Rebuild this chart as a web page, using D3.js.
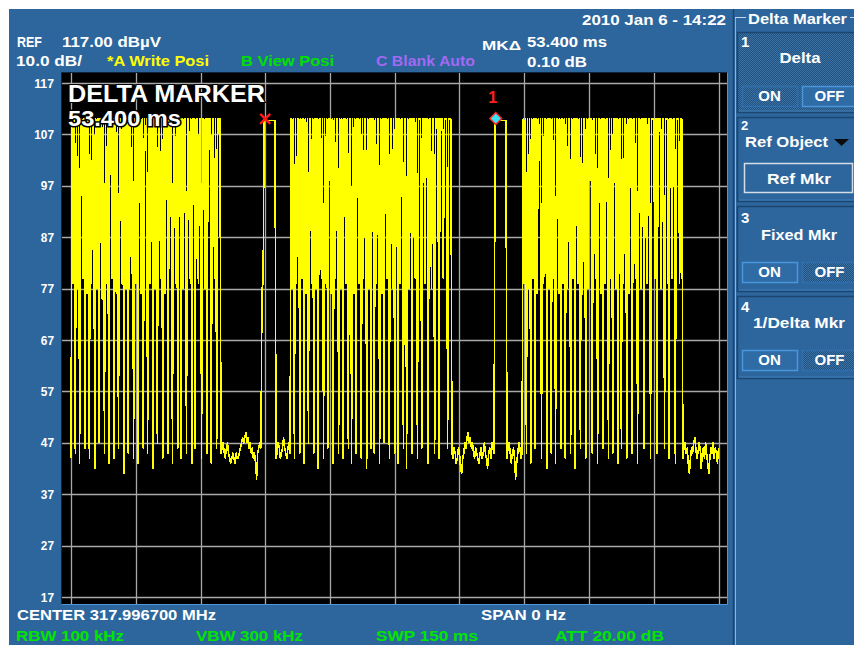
<!DOCTYPE html>
<html>
<head>
<meta charset="utf-8">
<script src="https://cdn.jsdelivr.net/npm/d3@7"></script>
<style>
  html, body { margin: 0; padding: 0; background: #fff; }
  svg { display: block; }
  text { font-family: "Liberation Sans", Arial, sans-serif; font-weight: bold; }
</style>
</head>
<body>
<svg id="chart" width="854" height="645"></svg>
<script>
// zero span sweep: 150 ms, one point every 0.25 ms (601 points)
const SWEEP_MS = 150;
const STEP_MS = 0.25;

// trace levels in dBuV
const leadIn = [44];
const burst1 = [
  110,78,110,45,110,77,110,43,110,110,
  79,110,46,110,76,110,44,110,78,110,
  110,42,110,77,110,47,110,110,75,110,
  45,110,78,110,43,110,110,79,110,44,
  110,76,110,46,110,110,78,110,41,110,
  77,110,45,110,110,80,110,44,110,78,
  110,43,110,110,76,110,46,110,104,110,
  45,110,78,110,110,42,110,77,110,47,
  110,110,79,110,44,110,76,110,110,45,
  110,91,110,43,110,110,78,110,46,110,
  110,44,110,77,110,110,45,110,110,79,
  110,43,110,110,46,110,110,78,110,110,
  44,110,110,77,110,45,110,110,110,43,
  110,110,79,110,46,110,110,110
];
const gap1 = [
  45,46,47,45,44,46,47,45,44,43,
  44,45,44,43,45,44,44,45,46,47,
  48,47,48,49,47,48,46,47,45,46,
  44,45,43,40,45,46,47
];
const pulseA = [46,77,78,110,110,109.7,109.7,109.7,109.7,109.7,109.7,109.7,109.7,109.7];
const gap2 = [44,45,47,46,44,45,46,48,46,45,44,46,47,45];
const burst2 = [
  110,77,110,44,110,78,110,110,45,110,
  79,110,43,110,76,110,47,110,110,78,
  110,45,110,77,110,42,110,110,79,110,
  44,110,78,110,46,110,110,76,110,43,
  110,79,110,110,45,110,77,110,44,110,
  110,78,110,46,110,110,43,110,76,110,
  45,110,110,78,110,44,110,79,110,110,
  42,110,77,110,46,110,110,45,110,78,
  110,110,43,110,76,110,47,110,110,79,
  110,44,110,110,77,110,45,110,110,43,
  110,78,110,110,46,110,110,42,110,77,
  110,110,45,110,110,79,110,44,110,110,
  110,46,110,110,78,110,110,43,110,110,
  77,110,110,45,110,110,110,44,110,110,
  110,79,110,110,110,46,110,110,110
];
const gap3 = [
  45,44,46,45,43,44,46,45,42,41,
  44,45,47,46,48,49,47,48,46,47,
  45,44,46,45,44,43,45,46,44,45,
  47,45,44,42,45,46,44,47,46
];
const pulseB = [45,110.1,109.7,109.7,109.7,109.7,109.7,109.7,109.7,109.7,109.7,109.7];
const gap4 = [44,46,47,45,43,45,46,44,40,43,45,47,46,44,45];
const burst3 = [
  110,78,110,45,110,77,110,43,110,79,
  110,46,110,76,110,102,110,44,110,78,
  110,110,42,110,77,110,45,110,79,110,
  43,110,110,76,110,46,110,78,110,44,
  110,77,110,110,45,110,79,110,42,110,
  110,78,110,46,110,76,110,110,44,110,
  77,110,98,110,45,110,110,79,110,43,
  110,110,76,110,46,110,78,110,110,44,
  110,79,110,45,110,110,77,110,43,110,
  110,46,110,78,110,110,44,110,76,110,
  110,45,110,110,79,110,43,110,110,77,
  110,110,46,110,110,78,110,110,44,110,
  110,110,79,110,45,110,110,110,77,110,
  110,46,110,110,110,44,110,110,79,110,
  110,43,110,110,110,78,110,110
];
const tail = [
  44,46,47,45,46,43,41,44,46,45,
  47,48,46,44,45,47,46,42,45,46,
  44,47,45,43,41,44,46,45,47,44,
  46,45,43,46
];

// reference marker (X) and delta marker (1)
const markerTimes = [45.0, 98.4];
const markerLevels = [110.0, 110.1];

// axis values
const levelTicks = [117, 107, 97, 87, 77, 67, 57, 47, 37, 27, 17];
const timeTicks = [0, 15, 30, 45, 60, 75, 90, 105, 120, 135, 150];

const BG = "#2c669d";
const DARK = "#1c4670";
const LIGHT = "#4a96dc";

const svg = d3.select("#chart");

function label(g, x0, y0, s, o = {}) {
  const t = g.append("text")
    .attr("x", x0).attr("y", y0)
    .attr("font-size", o.size || 15)
    .attr("fill", o.fill || "#fff")
    .text(s);
  if (o.anchor) t.attr("text-anchor", o.anchor);
  if (o.len) t.attr("textLength", o.len).attr("lengthAdjust", "spacingAndGlyphs");
  return t;
}

// dotted texture used by the "selected" panel pieces
const defs = svg.append("defs");
const pat = defs.append("pattern").attr("id", "dots")
  .attr("width", 2).attr("height", 2).attr("patternUnits", "userSpaceOnUse");
pat.append("rect").attr("width", 2).attr("height", 2).attr("fill", "#22527f");
pat.append("rect").attr("width", 1).attr("height", 1).attr("fill", "#3a72a6");
pat.append("rect").attr("x", 1).attr("y", 1).attr("width", 1).attr("height", 1).attr("fill", "#3a72a6");
defs.append("clipPath").attr("id", "plotclip")
  .append("rect").attr("x", 62).attr("y", 73).attr("width", 665).attr("height", 531);

svg.append("rect").attr("x", 9).attr("y", 9).attr("width", 845).attr("height", 636).attr("fill", BG);

// ---- plot area
const x = d3.scaleLinear().domain([0, SWEEP_MS]).range([71, 718.5]);
const y = d3.scaleLinear().domain([17, 117]).range([597, 83]);

svg.append("rect").attr("x", 62).attr("y", 73).attr("width", 665).attr("height", 531).attr("fill", "#000");
svg.append("path").attr("d", "M61.5,604.5 V72.5 H727.5").attr("fill", "none").attr("stroke", "#0d2540");
svg.append("path").attr("d", "M727.5,72.5 V604.5 H61.5").attr("fill", "none").attr("stroke", LIGHT);

const grid = svg.append("g").attr("stroke", "#a8a8a8").attr("stroke-width", 1.3);
grid.selectAll(".h").data(levelTicks).enter().append("line")
  .attr("x1", 62).attr("x2", 727)
  .attr("y1", d => Math.round(y(d)) + 0.5).attr("y2", d => Math.round(y(d)) + 0.5);
grid.selectAll(".v").data(timeTicks).enter().append("line")
  .attr("y1", 73).attr("y2", 604)
  .attr("x1", d => Math.round(x(d)) + 0.5).attr("x2", d => Math.round(x(d)) + 0.5);

// level labels on the left
const yAxis = svg.append("g").attr("transform", "translate(54,0)")
  .call(d3.axisLeft(y).tickValues(levelTicks).tickSize(0).tickPadding(0));
yAxis.select(".domain").remove();
yAxis.selectAll("text")
  .attr("fill", "#fff").attr("font-size", 13)
  .attr("font-family", "\"Liberation Sans\", Arial, sans-serif").attr("font-weight", "normal")
  .attr("textLength", d => String(d).length * 6.6).attr("lengthAdjust", "spacingAndGlyphs");

// trace
const levels = [].concat(leadIn, burst1, gap1, pulseA, gap2, burst2, gap3, pulseB, gap4, burst3, tail);
const trace = levels.map((db, i) => ({ t: i * STEP_MS, db: db }));
const line = d3.line().x(d => x(d.t)).y(d => y(d.db));
svg.append("path")
  .datum(trace)
  .attr("clip-path", "url(#plotclip)")
  .attr("d", line)
  .attr("fill", "none")
  .attr("stroke", "#ffff00")
  .attr("stroke-width", 1.6)
  .attr("stroke-linejoin", "round")
  .attr("shape-rendering", "crispEdges");

// markers
const mx0 = x(markerTimes[0]), my0 = y(markerLevels[0]);
svg.append("path")
  .attr("d", `M${mx0 - 5},${my0 - 5} L${mx0 + 5},${my0 + 5} M${mx0 + 5},${my0 - 5} L${mx0 - 5},${my0 + 5}`)
  .attr("stroke", "#ff1a1a").attr("stroke-width", 2.5);
const mx1 = x(markerTimes[1]), my1 = y(markerLevels[1]);
svg.append("path")
  .attr("d", `M${mx1},${my1 - 6} L${mx1 + 6},${my1} L${mx1},${my1 + 6} L${mx1 - 6},${my1} Z`)
  .attr("fill", "#38e2f0").attr("stroke", "#ff2020").attr("stroke-width", 1.3);
label(svg, mx1 - 3, 103, "1", { size: 16, fill: "#ff2020", anchor: "middle" });

// big marker readout over the trace
label(svg, 68, 102, "DELTA MARKER", { size: 24, len: 197 })
  .attr("stroke", "#000").attr("stroke-width", 2).attr("paint-order", "stroke");
label(svg, 68, 126, "53.400 ms", { size: 22, len: 113 })
  .attr("stroke", "#000").attr("stroke-width", 3).attr("paint-order", "stroke");

// ---- header
label(svg, 582, 25, "2010 Jan 6 - 14:22", { size: 15, len: 144 });
label(svg, 17, 47, "REF", { size: 15, len: 25 });
label(svg, 62, 47, "117.00 dBµV", { size: 15, len: 99 });
label(svg, 16, 66, "10.0 dB/", { size: 14, len: 66 });
label(svg, 107, 66, "*A Write Posi", { size: 14, len: 102, fill: "#ffff00" });
label(svg, 241, 66, "B View Posi", { size: 14, len: 93, fill: "#00e000" });
label(svg, 376, 66, "C Blank Auto", { size: 14, len: 99, fill: "#a468f2" });
label(svg, 482, 50, "MKΔ", { size: 13, len: 39 });
label(svg, 527, 47, "53.400 ms", { size: 15, len: 80 });
label(svg, 527, 67, "0.10 dB", { size: 15, len: 60 });

// ---- footer
label(svg, 17, 620, "CENTER 317.996700 MHz", { size: 15, len: 199 });
label(svg, 481, 620, "SPAN 0 Hz", { size: 15, len: 85 });
label(svg, 16, 641, "RBW  100 kHz", { size: 15, len: 108, fill: "#00e600" });
label(svg, 196, 641, "VBW  300 kHz", { size: 15, len: 107, fill: "#00e600" });
label(svg, 376, 641, "SWP  150 ms", { size: 15, len: 102, fill: "#00e600" });
label(svg, 555, 641, "ATT  20.00 dB", { size: 15, len: 109, fill: "#00e600" });

// ---- soft key panel
const panel = svg.append("g");
panel.append("line").attr("x1", 733.5).attr("x2", 733.5).attr("y1", 9).attr("y2", 645).attr("stroke", DARK).attr("stroke-width", 1.5);
panel.append("line").attr("x1", 735.5).attr("x2", 735.5).attr("y1", 17).attr("y2", 645).attr("stroke", "#8fb3d6");
panel.append("line").attr("x1", 735).attr("x2", 746).attr("y1", 17.5).attr("y2", 17.5).attr("stroke", "#c7d6e6");
panel.append("line").attr("x1", 850).attr("x2", 854).attr("y1", 17.5).attr("y2", 17.5).attr("stroke", "#c7d6e6");
label(panel, 748, 24, "Delta Marker", { size: 15, len: 99 });

function box(y0, h, fill) {
  panel.append("rect").attr("x", 737.5).attr("y", y0 + 0.5).attr("width", 125).attr("height", h)
    .attr("fill", fill).attr("stroke", DARK).attr("stroke-width", 1.5);
  panel.append("line").attr("x1", 739).attr("x2", 854).attr("y1", y0 + h - 1).attr("y2", y0 + h - 1)
    .attr("stroke", "#3f7fb8");
}
function button(x0, y0, w, h, txt, selected) {
  panel.append("rect").attr("x", x0 + 0.5).attr("y", y0 + 0.5).attr("width", w).attr("height", h)
    .attr("fill", selected ? "url(#dots)" : "#2f6ba5")
    .attr("stroke", selected ? "#2f6fae" : LIGHT).attr("stroke-width", 1.5);
  label(panel, x0 + w / 2, y0 + h - 5, txt, { size: 15, anchor: "middle" });
}

box(32, 80, "url(#dots)");
label(panel, 741, 47, "1", { size: 15 });
label(panel, 800, 63, "Delta", { size: 15, anchor: "middle", len: 41 });
button(742, 86, 55, 20, "ON", true);
button(802, 86, 55, 20, "OFF", false);

box(117, 84, BG);
label(panel, 741, 130, "2", { size: 13 });
label(panel, 745, 147, "Ref Object", { size: 15, len: 83 });
panel.append("path").attr("d", "M834,139 L849,139 L841.5,146 Z").attr("fill", "#0b0b0b");
panel.append("rect").attr("x", 744.5).attr("y", 163.5).attr("width", 108).attr("height", 29)
  .attr("fill", BG).attr("stroke", "#d4dde8").attr("stroke-width", 1.5);
label(panel, 799, 184, "Ref Mkr", { size: 15, anchor: "middle", len: 64 });

box(206, 85, BG);
label(panel, 741, 223, "3", { size: 15 });
label(panel, 799, 240, "Fixed Mkr", { size: 15, anchor: "middle", len: 76 });
button(742, 262, 55, 20, "ON", false);
button(802, 262, 55, 20, "OFF", true);

box(296, 82, BG);
label(panel, 741, 312, "4", { size: 15 });
label(panel, 799, 328, "1/Delta Mkr", { size: 15, anchor: "middle", len: 92 });
button(742, 350, 55, 20, "ON", false);
button(802, 350, 55, 20, "OFF", true);
</script>
</body>
</html>
